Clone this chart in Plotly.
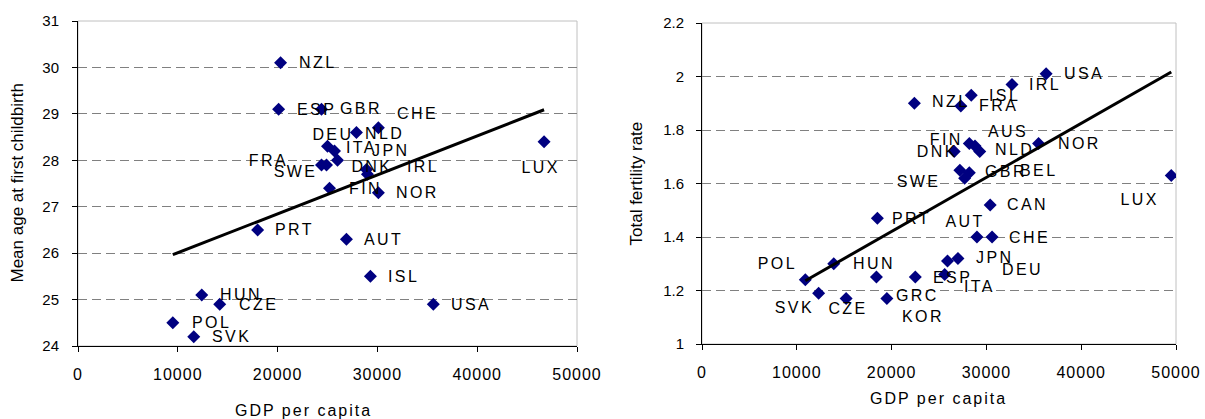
import numpy as np
import plotly.graph_objects as go

# left panel: mean age of mothers at first childbirth vs GDP per capita
age_countries = ["NZL", "ESP", "GBR", "NLD", "CHE", "DEU", "ITA", "JPN", "FRA", "SWE", "DNK", "IRL",
                 "FIN", "NOR", "LUX", "PRT", "AUT", "ISL", "USA", "HUN", "CZE", "POL", "SVK"]
age_gdp = [20300, 20100, 24400, 27900, 30100, 25000, 25700, 26000, 24400, 24900, 28900, 29000,
           25200, 30100, 46700, 18000, 26900, 29300, 35600, 12400, 14200, 9500, 11600]
age_first_birth = [30.1, 29.1, 29.1, 28.6, 28.7, 28.3, 28.2, 28.0, 27.9, 27.9, 27.8, 27.7,
                   27.4, 27.3, 28.4, 26.5, 26.3, 25.5, 24.9, 25.1, 24.9, 24.5, 24.2]

# right panel: total fertility rate vs GDP per capita
tfr_countries = ["USA", "IRL", "ISL", "FRA", "NZL", "AUS", "FIN", "NLD", "DNK", "NOR", "SWE", "GBR",
                 "BEL", "LUX", "CAN", "PRT", "AUT", "CHE", "JPN", "DEU", "ITA", "ESP", "GRC", "KOR",
                 "POL", "HUN", "SVK", "CZE"]
tfr_gdp = [36300, 32700, 28400, 27300, 22400, 28200, 28800, 29300, 26600, 35500, 27200, 28200,
           27700, 49500, 30400, 18500, 29000, 30600, 27000, 25900, 25600, 22500, 18400, 19500,
           10900, 13900, 12300, 15200]
tfr = [2.01, 1.97, 1.93, 1.89, 1.90, 1.75, 1.74, 1.72, 1.72, 1.75, 1.65, 1.64,
       1.62, 1.63, 1.52, 1.47, 1.40, 1.40, 1.32, 1.31, 1.26, 1.25, 1.25, 1.17,
       1.24, 1.30, 1.19, 1.17]

# label placement (anchor, dx px, dy px down) relative to each marker
age_label_pos = {
    "NZL": ("left", 16, 0), "ESP": ("left", 16, 0), "GBR": ("left", 16, -1),
    "NLD": ("left", 7, 1), "CHE": ("left", 17, -14), "DEU": ("center", 5, -12),
    "ITA": ("left", 10, -4), "JPN": ("left", 33, -10), "FRA": ("right", -32, -4),
    "SWE": ("right", -8, 7), "DNK": ("center", 6, -3), "IRL": ("left", 38, -8),
    "FIN": ("left", 17, 0), "NOR": ("left", 16, 0), "LUX": ("center", -4, 26),
    "PRT": ("left", 15, 0), "AUT": ("left", 16, 0), "ISL": ("left", 16, 0),
    "USA": ("left", 16, 0), "HUN": ("left", 16, 0), "CZE": ("left", 17, 0),
    "POL": ("left", 17, 0), "SVK": ("left", 16, 0),
}
tfr_label_pos = {
    "USA": ("left", 16, 0), "IRL": ("left", 15, 0), "ISL": ("left", 16, 0),
    "FRA": ("left", 16, 0), "NZL": ("left", 16, -2), "AUS": ("left", 17, -12),
    "FIN": ("right", -10, -7), "NLD": ("left", 13, -2), "DNK": ("right", 6, 0),
    "NOR": ("left", 17, 0), "SWE": ("right", -18, 11), "GBR": ("left", 14, -1),
    "BEL": ("left", 53, -8), "LUX": ("center", -32, 24), "CAN": ("left", 15, 0),
    "PRT": ("left", 13, 0), "AUT": ("center", -12, -16), "CHE": ("left", 15, 0),
    "JPN": ("left", 16, -1), "DEU": ("left", 52, 8), "ITA": ("left", 17, 12),
    "ESP": ("left", 16, 0), "GRC": ("left", 18, 18), "KOR": ("left", 13, 18),
    "POL": ("right", -6, -16), "HUN": ("left", 17, 0), "SVK": ("right", -3, 14),
    "CZE": ("center", 2, 10),
}

FONT = "Liberation Sans, Arial, sans-serif"
W, H = 1205, 419

fig = go.Figure()


def add_panel(xs, ys, names, label_pos, xa, ya):
    fig.add_trace(go.Scatter(
        x=xs, y=ys, mode="markers", xaxis=xa, yaxis=ya, showlegend=False,
        marker=dict(symbol="diamond", size=10, color="#000080"),
        text=names, hoverinfo="text+x+y",
    ))
    slope, intercept = np.polyfit(xs, ys, 1)
    ends = [min(xs), max(xs)]
    fig.add_trace(go.Scatter(
        x=ends, y=[slope * v + intercept for v in ends], mode="lines",
        xaxis=xa, yaxis=ya, showlegend=False, hoverinfo="skip",
        line=dict(color="black", width=3),
    ))
    for name, gx, gy in zip(names, xs, ys):
        anchor, dx, dy = label_pos[name]
        fig.add_annotation(
            x=gx, y=gy, xref=xa, yref=ya, text=name, showarrow=False,
            xanchor=anchor, align=anchor, yanchor="middle", xshift=dx, yshift=-dy,
            font=dict(family=FONT, size=16, color="black"),
        )
    # light grey frame round the plot area
    fig.add_shape(type="rect", xref=xa + " domain", yref=ya + " domain",
                  x0=0, x1=1, y0=0, y1=1, layer="below",
                  line=dict(color="#c0c0c0", width=1))


add_panel(age_gdp, age_first_birth, age_countries, age_label_pos, "x", "y")
add_panel(tfr_gdp, tfr, tfr_countries, tfr_label_pos, "x2", "y2")

xaxis_style = dict(
    range=[0, 50000], dtick=10000, tickformat="d", showgrid=False, zeroline=False,
    showline=True, linecolor="black", linewidth=1, ticks="outside", ticklen=5,
    tickcolor="black", ticklabelstandoff=9, automargin=False,
    tickfont=dict(family=FONT, size=16, color="black"),
)
yaxis_style = dict(
    showgrid=True, gridcolor="#808080", gridwidth=1, griddash="9px,5px", zeroline=False,
    showline=True, linecolor="black", linewidth=1, ticks="outside", ticklen=5,
    tickcolor="black", automargin=False,
    tickfont=dict(family=FONT, size=15, color="black"),
)

fig.update_layout(
    width=W, height=H, margin=dict(l=0, r=0, t=0, b=0, autoexpand=False),
    paper_bgcolor="white", plot_bgcolor="white",
    xaxis=dict(domain=[78 / W, 577 / W], anchor="y", **xaxis_style),
    yaxis=dict(domain=[1 - 346 / H, 1 - 21 / H], anchor="x", range=[24, 31], dtick=1,
               ticklabelstandoff=10, **yaxis_style),
    xaxis2=dict(domain=[702 / W, 1176 / W], anchor="y2", **xaxis_style),
    yaxis2=dict(domain=[1 - 344 / H, 1 - 23 / H], anchor="x2", range=[1, 2.2], dtick=0.2,
                ticklabelstandoff=9, **yaxis_style),
)

# axis titles
titles = [
    ("Mean age at first childbirth", 17, 183.5, -90),
    ("Total fertility rate", 636, 183.5, -90),
    ("GDP per capita", 303.5, 410, 0),
    ("GDP per capita", 938, 398, 0),
]
for text, px, py, angle in titles:
    fig.add_annotation(
        x=px / W, y=1 - py / H, xref="paper", yref="paper", text=text, showarrow=False,
        xanchor="center", yanchor="middle", textangle=angle,
        font=dict(family=FONT, size=17 if angle else 16, color="black"),
    )

# page without the default body margin; the source chart uses letter-spaced labels
spacing_js = """
document.body.style.margin = '0';
document.body.style.overflow = 'hidden';
var gd = document.getElementById('{plot_id}');
function spaceLabels() {
  gd.querySelectorAll('.annotation-text').forEach(function (t) {
    var s = t.textContent;
    if (s.length === 3) { t.style.letterSpacing = '2.4px'; }
    else if (s === 'GDP per capita') { t.style.letterSpacing = '2px'; }
  });
  gd.querySelectorAll('.xtick text, .x2tick text').forEach(function (t) {
    t.style.letterSpacing = '1px';
  });
}
spaceLabels();
gd.on('plotly_afterplot', spaceLabels);
"""

fig.write_html("out.html", post_script=spacing_js, config={"displayModeBar": False})
